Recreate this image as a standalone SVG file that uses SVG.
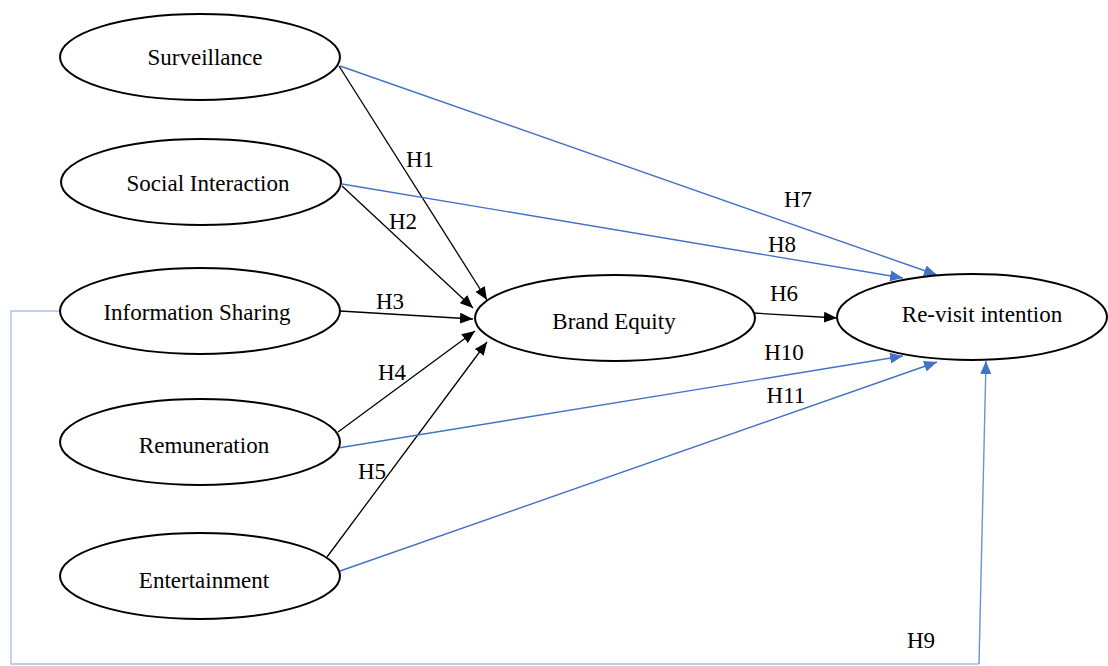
<svg xmlns="http://www.w3.org/2000/svg" width="1108" height="666" viewBox="0 0 1108 666">
<style>
.node ellipse{fill:#fff;stroke:#000;stroke-width:2}
text{font-family:"Liberation Serif","Times New Roman",serif;font-size:23px;fill:#000;text-anchor:middle}
.blk{stroke:#000;stroke-width:1.3;fill:none;marker-end:url(#ab)}
.blu{stroke:#4472C4;stroke-width:1.4;fill:none;marker-end:url(#au)}
.lt{stroke:#A9C1EA;stroke-width:1.4;fill:none}
</style>
<defs>
<marker id="ab" markerUnits="userSpaceOnUse" markerWidth="13" markerHeight="11" refX="13" refY="5.5" orient="auto"><path d="M0,0 L13,5.5 L0,11 z" fill="#000"/></marker>
<marker id="au" markerUnits="userSpaceOnUse" markerWidth="13" markerHeight="11" refX="13" refY="5.5" orient="auto"><path d="M0,0 L13,5.5 L0,11 z" fill="#4472C4"/></marker>
</defs>
<rect width="1108" height="666" fill="#fff"/>
<g id="connectors">
<path class="blk" d="M339,66 L487,300"/>
<path class="blk" d="M342,186 L473,308"/>
<path class="blk" d="M340,311 L473,319"/>
<path class="blk" d="M338,432 L475,331"/>
<path class="blk" d="M327,557 L487,342"/>
<path class="blk" d="M753,313 L837,318"/>
<path class="blu" d="M340,66 L937,275"/>
<path class="blu" d="M342,184 L903,278"/>
<path class="blu" d="M338,448 L903,356"/>
<path class="blu" d="M340,571 L937,362"/>
<path class="lt" d="M60,311 H11 V664 H979"/>
<path class="blu" style="stroke:#6A93D8" d="M979,664 L986,361"/>
<text x="420" y="167">H1</text>
<text x="403" y="229">H2</text>
<text x="390" y="309">H3</text>
<text x="392" y="380">H4</text>
<text x="372" y="479">H5</text>
<text x="784" y="301">H6</text>
<text x="798" y="207">H7</text>
<text x="782" y="252">H8</text>
<text x="921" y="648">H9</text>
<text x="784" y="360">H10</text>
<text x="786" y="403">H11</text>
</g>
<g id="surveillance" class="node"><ellipse cx="200" cy="57" rx="140" ry="43"/><text x="205" y="65">Surveillance</text></g>
<g id="social-interaction" class="node"><ellipse cx="201" cy="182" rx="140" ry="43"/><text x="208" y="191">Social Interaction</text></g>
<g id="information-sharing" class="node"><ellipse cx="200" cy="311" rx="140" ry="43"/><text x="197" y="320">Information Sharing</text></g>
<g id="remuneration" class="node"><ellipse cx="200" cy="442" rx="140" ry="43"/><text x="204" y="453">Remuneration</text></g>
<g id="entertainment" class="node"><ellipse cx="200" cy="576" rx="140" ry="43"/><text x="204" y="588">Entertainment</text></g>
<g id="brand-equity" class="node"><ellipse cx="615" cy="318" rx="140" ry="43"/><text x="614" y="329">Brand Equity</text></g>
<g id="revisit-intention" class="node"><ellipse cx="972" cy="317" rx="135" ry="43"/><text x="982" y="322">Re-visit intention</text></g>
</svg>
